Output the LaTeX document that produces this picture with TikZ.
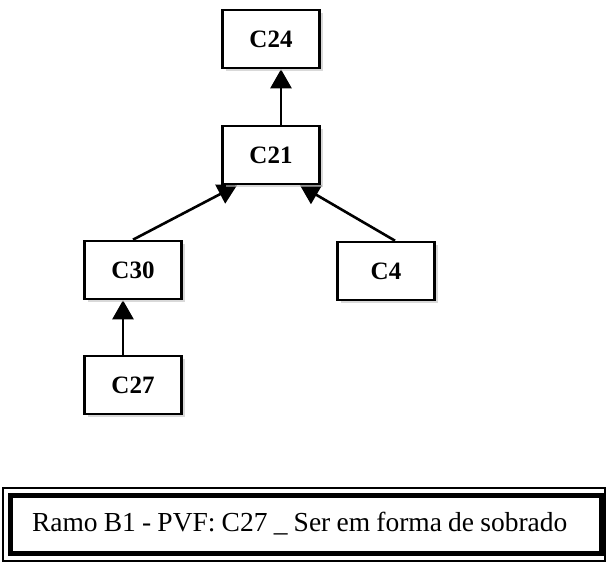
\documentclass[tikz,border=0pt]{standalone}
\usepackage{fontspec}
\setmainfont{Liberation Serif}
\newfontfamily\legendfont[WordSpace=0.9]{Liberation Serif}
\usetikzlibrary{arrows.meta,shadows,backgrounds}

\tikzset{
  cbox/.style={draw, line width=2.6pt, fill=white, minimum width=97pt, minimum height=58pt,
    font=\fontsize{25}{27}\selectfont\bfseries,
    drop shadow={shadow xshift=3pt, shadow yshift=-3pt, fill=gray!50, opacity=0.6}},
  uparrow/.style={line width=2.6pt, -{Triangle[width=21pt,length=19pt]}},
  legendbox/.style={draw, line width=5pt, outer sep=0pt, minimum width=591pt, minimum height=58pt,
    inner xsep=22pt, font=\legendfont\fontsize{27.5}{29}\selectfont}
}

\begin{document}
\begin{tikzpicture}[x=1pt,y=-1pt]
\useasboundingbox (0,0) rectangle (606,567);

% tree of cells
\node[cbox] (c24) at (271,39) {C24};
\node[cbox] (c21) at (271,155) {C21};
\node[cbox] (c30) at (133,270) {C30};
\node[cbox] (c4) at (386,271) {C4};
\node[cbox] (c27) at (133,385) {C27};

\begin{scope}[on background layer]
\draw[uparrow] ([xshift=10pt]c21.north) -- ([xshift=10pt]c24.south);
\draw[uparrow] (c30.north) -- ([xshift=-34pt]c21.south);
\draw[uparrow] ([xshift=9pt]c4.north) -- ([xshift=29pt]c21.south);
\draw[uparrow] ([xshift=-10pt]c27.north) -- ([xshift=-10pt]c30.south);
\end{scope}

% legend
\node[legendbox] (legend) at (305.5,524) {\makebox[547pt][l]{Ramo B1 - PVF: C27 \_ Ser em forma de sobrado}};
\draw[line width=1.5pt] ([shift={(-7pt,7pt)}]legend.north west) rectangle ([shift={(4pt,-8pt)}]legend.south east);
\end{tikzpicture}
\end{document}
